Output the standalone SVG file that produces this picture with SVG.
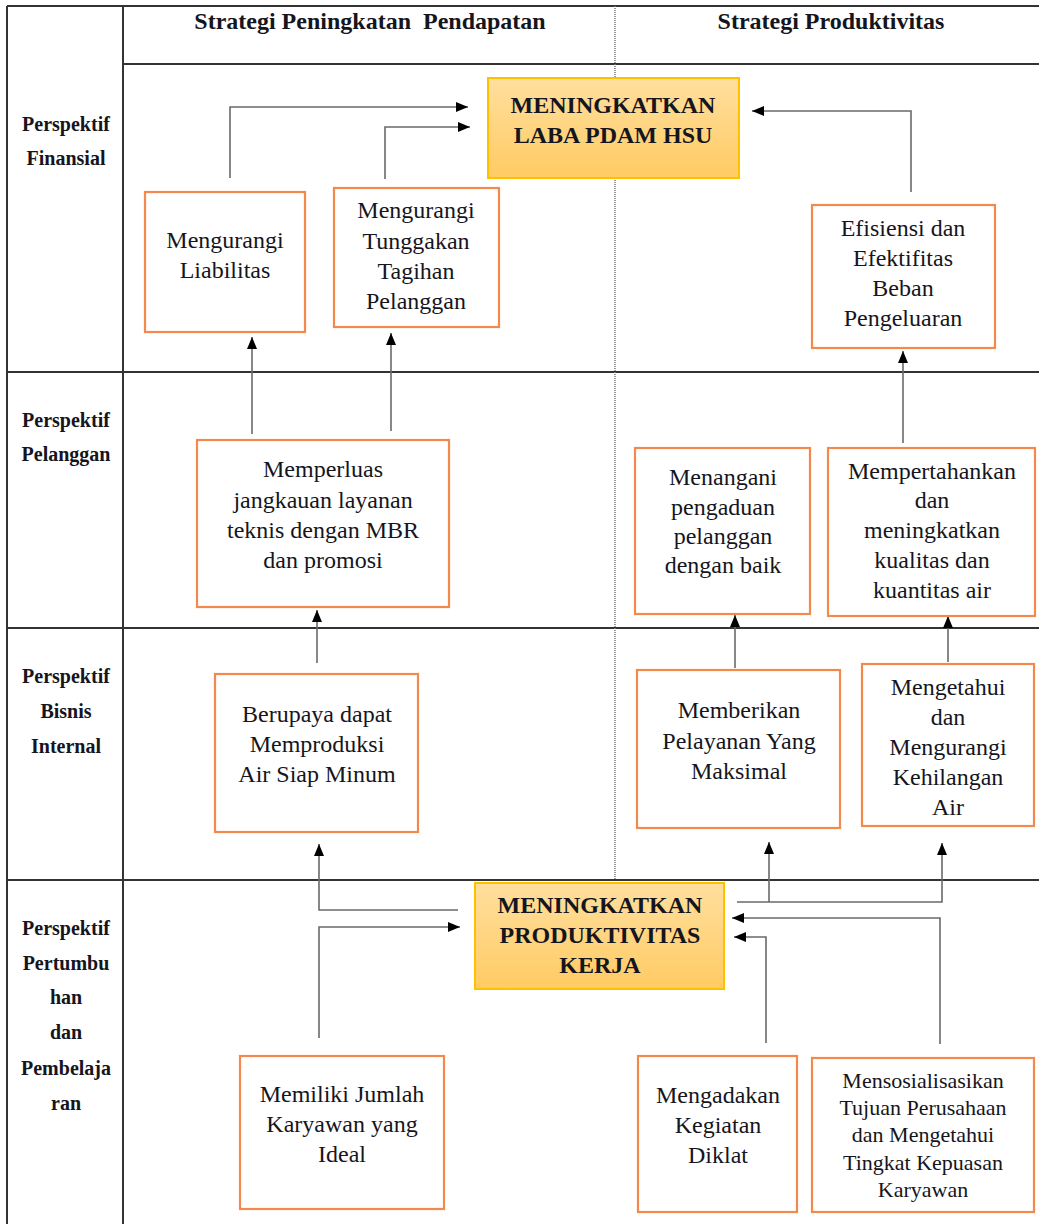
<svg xmlns="http://www.w3.org/2000/svg" width="1039" height="1224" viewBox="0 0 1039 1224">
<style>
.grid{stroke:#333;stroke-width:2;fill:none}
.dot{stroke:#777;stroke-width:1.5;stroke-dasharray:1 1;fill:none}
.box{fill:#fff;stroke:#F4894D;stroke-width:2.2}
.gold{fill:url(#g);stroke:#FFC000;stroke-width:2}
.t{font-family:"Liberation Serif","Times New Roman",serif;font-size:24px;fill:#151520;text-anchor:middle}
.ts{font-size:22px}
.b{font-family:"Liberation Serif","Times New Roman",serif;font-weight:bold;font-size:24px;fill:#151520;text-anchor:middle}
.h{font-family:"Liberation Serif","Times New Roman",serif;font-weight:bold;font-size:24px;fill:#151520;text-anchor:middle}
.r{font-family:"Liberation Serif","Times New Roman",serif;font-weight:bold;font-size:20px;fill:#151520;text-anchor:middle}
.c{stroke:#6a6a6a;stroke-width:1.6;fill:none}
.a{marker-end:url(#ah)}
</style>
<defs>
<linearGradient id="g" x1="0" y1="0" x2="0" y2="1">
<stop offset="0" stop-color="#FFDF9E"/>
<stop offset="1" stop-color="#FFCB63"/>
</linearGradient>
<marker id="ah" markerUnits="userSpaceOnUse" markerWidth="13" markerHeight="11" refX="12" refY="5.5" orient="auto">
<path d="M0,0.5 L12,5.5 L0,10.5 z" fill="#000"/>
</marker>
</defs>
<rect width="1039" height="1224" fill="#fff"/>
<g id="table">
<path class="grid" d="M7,6 H1039 M7,6 V1224 M123,6 V1224 M123,64 H1039 M7,372 H1039 M7,628 H1039 M7,880 H1039"/>
<path class="dot" d="M615,6 V880"/>
<text class="h" x="370" y="29">Strategi Peningkatan&#160; Pendapatan</text>
<text class="h" x="831" y="29">Strategi Produktivitas</text>
<text class="r" x="66" y="131">Perspektif</text>
<text class="r" x="66" y="165">Finansial</text>
<text class="r" x="66" y="427">Perspektif</text>
<text class="r" x="66" y="461">Pelanggan</text>
<text class="r" x="66" y="683">Perspektif</text>
<text class="r" x="66" y="718">Bisnis</text>
<text class="r" x="66" y="753">Internal</text>
<text class="r" x="66" y="935">Perspektif</text>
<text class="r" x="66" y="970">Pertumbu</text>
<text class="r" x="66" y="1004">han</text>
<text class="r" x="66" y="1039">dan</text>
<text class="r" x="66" y="1075">Pembelaja</text>
<text class="r" x="66" y="1110">ran</text>
</g>
<g id="connectors">
<path class="c a" d="M230,178 V107 H468"/>
<path class="c a" d="M385,179 V127 H470"/>
<path class="c a" d="M911,192 V111 H752"/>
<path class="c a" d="M252,434 V337"/>
<path class="c a" d="M391,431 V333"/>
<path class="c a" d="M903,443 V351"/>
<path class="c a" d="M317,663 V610"/>
<path class="c a" d="M735,668 V615"/>
<path class="c a" d="M948,662 V616"/>
<path class="c a" d="M458,910 H319 V844"/>
<path class="c a" d="M319,1038 V927 H460"/>
<path class="c a" d="M737,902 H942 V843"/>
<path class="c a" d="M769,902 V842"/>
<path class="c a" d="M940,1044 V918 H732"/>
<path class="c a" d="M766,1043 V937 H734"/>
</g>
<g id="n_laba">
<rect class="gold" x="488" y="78" width="251" height="100"/>
<text class="b" x="613" y="113">MENINGKATKAN</text>
<text class="b" x="613" y="143">LABA PDAM HSU</text>
</g>
<g id="n_liabilitas">
<rect class="box" x="145" y="192" width="160" height="140"/>
<text class="t" x="225" y="248">Mengurangi</text>
<text class="t" x="225" y="278">Liabilitas</text>
</g>
<g id="n_tunggakan">
<rect class="box" x="334" y="188" width="165" height="139"/>
<text class="t" x="416" y="218">Mengurangi</text>
<text class="t" x="416" y="249">Tunggakan</text>
<text class="t" x="416" y="279">Tagihan</text>
<text class="t" x="416" y="309">Pelanggan</text>
</g>
<g id="n_efisiensi">
<rect class="box" x="812" y="205" width="183" height="143"/>
<text class="t" x="903" y="236">Efisiensi dan</text>
<text class="t" x="903" y="266">Efektifitas</text>
<text class="t" x="903" y="296">Beban</text>
<text class="t" x="903" y="326">Pengeluaran</text>
</g>
<g id="n_memperluas">
<rect class="box" x="197" y="440" width="252" height="167"/>
<text class="t" x="323" y="477">Memperluas</text>
<text class="t" x="323" y="508">jangkauan layanan</text>
<text class="t" x="323" y="538">teknis dengan MBR</text>
<text class="t" x="323" y="568">dan promosi</text>
</g>
<g id="n_menangani">
<rect class="box" x="635" y="448" width="175" height="166"/>
<text class="t" x="723" y="485">Menangani</text>
<text class="t" x="723" y="515">pengaduan</text>
<text class="t" x="723" y="544">pelanggan</text>
<text class="t" x="723" y="573">dengan baik</text>
</g>
<g id="n_mempertahankan">
<rect class="box" x="828" y="448" width="207" height="168"/>
<text class="t" x="932" y="479">Mempertahankan</text>
<text class="t" x="932" y="508">dan</text>
<text class="t" x="932" y="538">meningkatkan</text>
<text class="t" x="932" y="568">kualitas dan</text>
<text class="t" x="932" y="598">kuantitas air</text>
</g>
<g id="n_berupaya">
<rect class="box" x="215" y="674" width="203" height="158"/>
<text class="t" x="317" y="722">Berupaya dapat</text>
<text class="t" x="317" y="752">Memproduksi</text>
<text class="t" x="317" y="782">Air Siap Minum</text>
</g>
<g id="n_memberikan">
<rect class="box" x="637" y="670" width="203" height="158"/>
<text class="t" x="739" y="718">Memberikan</text>
<text class="t" x="739" y="749">Pelayanan Yang</text>
<text class="t" x="739" y="779">Maksimal</text>
</g>
<g id="n_mengetahui">
<rect class="box" x="862" y="664" width="172" height="162"/>
<text class="t" x="948" y="695">Mengetahui</text>
<text class="t" x="948" y="725">dan</text>
<text class="t" x="948" y="755">Mengurangi</text>
<text class="t" x="948" y="785">Kehilangan</text>
<text class="t" x="948" y="815">Air</text>
</g>
<g id="n_produktivitas">
<rect class="gold" x="475" y="883" width="249" height="106"/>
<text class="b" x="600" y="913">MENINGKATKAN</text>
<text class="b" x="600" y="943">PRODUKTIVITAS</text>
<text class="b" x="600" y="973">KERJA</text>
</g>
<g id="n_memiliki">
<rect class="box" x="240" y="1056" width="204" height="153"/>
<text class="t" x="342" y="1102">Memiliki Jumlah</text>
<text class="t" x="342" y="1132">Karyawan yang</text>
<text class="t" x="342" y="1162">Ideal</text>
</g>
<g id="n_diklat">
<rect class="box" x="638" y="1056" width="159" height="156"/>
<text class="t" x="718" y="1103">Mengadakan</text>
<text class="t" x="718" y="1133">Kegiatan</text>
<text class="t" x="718" y="1163">Diklat</text>
</g>
<g id="n_sosialisasi">
<rect class="box" x="812" y="1058" width="222" height="154"/>
<text class="t ts" x="923" y="1088">Mensosialisasikan</text>
<text class="t ts" x="923" y="1115">Tujuan Perusahaan</text>
<text class="t ts" x="923" y="1142">dan Mengetahui</text>
<text class="t ts" x="923" y="1170">Tingkat Kepuasan</text>
<text class="t ts" x="923" y="1197">Karyawan</text>
</g>
</svg>
